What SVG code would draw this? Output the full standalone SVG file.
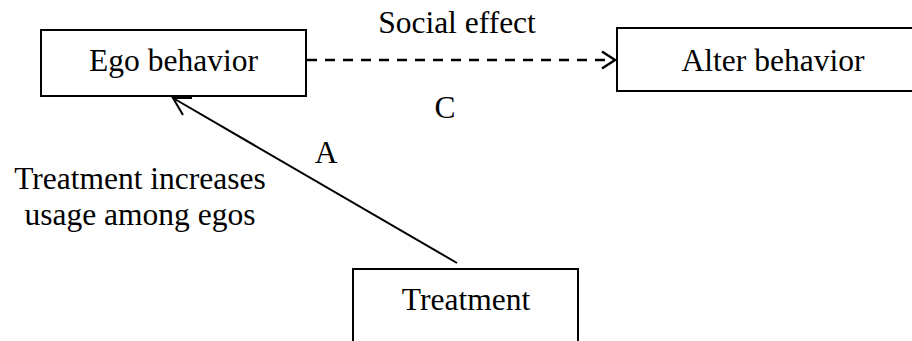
<svg xmlns="http://www.w3.org/2000/svg" width="912" height="341" viewBox="0 0 912 341" font-family="'Liberation Serif', 'Times New Roman', 'DejaVu Serif', serif">
<style>
  .box { fill: #fff; stroke: #000; stroke-width: 2; }
  .t { font-family: 'Liberation Serif', 'Times New Roman', 'DejaVu Serif', serif; font-size: 31.5px; fill: #000; text-anchor: middle; }
  .edge { fill: none; stroke: #000; }
</style>
<rect width="912" height="341" fill="#fff"/>
<g id="connectors">
  <line class="edge" x1="307" y1="60" x2="614" y2="60" stroke-width="2.5" stroke-dasharray="10 8"/>
  <polyline class="edge" points="602,51.5 615,60 602,68.5" stroke-width="2.5"/>
  <line class="edge" x1="457" y1="263" x2="173" y2="98" stroke-width="2"/>
  <polyline class="edge" points="192,98 173,98 183,115" stroke-width="2"/>
</g>
<g id="label-social">
  <text class="t" x="457" y="33">Social effect</text>
</g>
<g id="label-C">
  <text class="t" x="445" y="118">C</text>
</g>
<g id="label-A">
  <text class="t" x="326" y="163">A</text>
</g>
<g id="label-treatment-effect">
  <text class="t" x="140" y="189">Treatment increases</text>
  <text class="t" x="140" y="225">usage among egos</text>
</g>
<g id="node-ego">
  <rect class="box" x="41" y="30" width="265" height="66"/>
  <text class="t" x="173.5" y="71">Ego behavior</text>
</g>
<g id="node-alter">
  <rect class="box" x="617" y="28" width="310" height="63"/>
  <text class="t" x="773" y="71">Alter behavior</text>
</g>
<g id="node-treatment">
  <rect class="box" x="353" y="269" width="225" height="90"/>
  <text class="t" x="466" y="310">Treatment</text>
</g>
</svg>
